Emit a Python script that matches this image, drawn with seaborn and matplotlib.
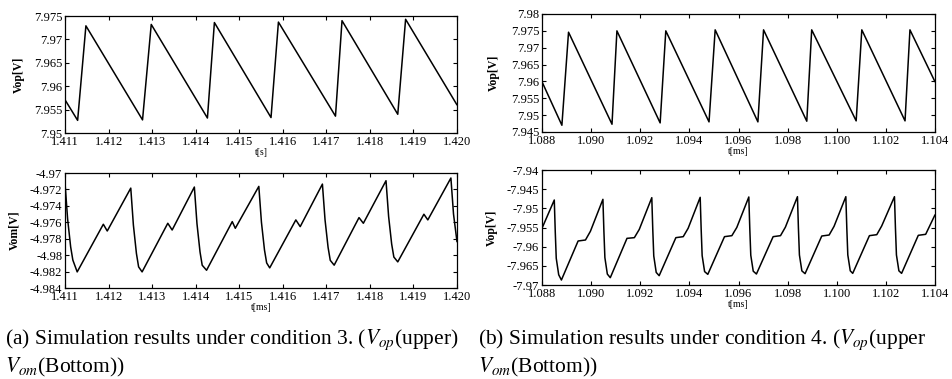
import matplotlib
matplotlib.use("Agg")
import matplotlib.pyplot as plt
import seaborn as sns

# ---------------- data ----------------
# (a) upper: Vop [V] vs t [s]
t_a_op = [1.41100, 1.41129, 1.41148, 1.41278, 1.41298, 1.41427, 1.41443, 1.41573,
          1.41590, 1.41721, 1.41736, 1.41864, 1.41882, 1.42000]
v_a_op = [7.9571, 7.9527, 7.9729, 7.9528, 7.9732, 7.9532, 7.9736, 7.9533,
          7.9737, 7.9536, 7.9740, 7.9540, 7.9743, 7.9560]

# (a) bottom: Vom [V] vs t [ms]
t_a_om = [1.41100, 1.41106, 1.41113, 1.41118, 1.41128,
          1.41188, 1.41197, 1.41251, 1.41257, 1.41264, 1.41269, 1.41277,
          1.41336, 1.41346, 1.41397, 1.41403, 1.41410, 1.41415, 1.41425,
          1.41484, 1.41491, 1.41545, 1.41551, 1.41558, 1.41563, 1.41570,
          1.41630, 1.41640, 1.41691, 1.41697, 1.41704, 1.41709, 1.41718,
          1.41775, 1.41785, 1.41837, 1.41843, 1.41850, 1.41855, 1.41864,
          1.41924, 1.41933, 1.41986, 1.41992, 1.42000]
v_a_om = [-4.97120, -4.97560, -4.97900, -4.98060, -4.98204,
          -4.97624, -4.97706, -4.97184, -4.97633, -4.97980, -4.98143, -4.98204,
          -4.97612, -4.97694, -4.97171, -4.97617, -4.97961, -4.98123, -4.98184,
          -4.97592, -4.97673, -4.97163, -4.97599, -4.97937, -4.98095, -4.98155,
          -4.97571, -4.97653, -4.97135, -4.97569, -4.97905, -4.98063, -4.98122,
          -4.97543, -4.97612, -4.97094, -4.97529, -4.97865, -4.98023, -4.98082,
          -4.97502, -4.97571, -4.97061, -4.97500, -4.97837]

# (b) upper: Vop [V] vs t [ms]
t_b_op = [1.08800, 1.08881, 1.08908, 1.09085, 1.09105, 1.09281, 1.09304, 1.09480,
          1.09505, 1.09679, 1.09702, 1.09878, 1.09898, 1.10079, 1.10102, 1.10278,
          1.10298, 1.10400]
v_b_op = [7.9599, 7.9470, 7.9746, 7.9473, 7.9750, 7.9477, 7.9750, 7.9480,
          7.9753, 7.9480, 7.9753, 7.9482, 7.9753, 7.9483, 7.9753, 7.9483,
          7.9753, 7.9599]

# (b) bottom: Vom [V] vs t [ms]
t_b_om = [1.08800,
          1.08850, 1.08854, 1.08858, 1.08868, 1.08879, 1.08947, 1.08977, 1.08997,
          1.09048, 1.09052, 1.09056, 1.09066, 1.09078, 1.09146, 1.09176, 1.09196,
          1.09247, 1.09251, 1.09255, 1.09265, 1.09277, 1.09345, 1.09375, 1.09395,
          1.09444, 1.09448, 1.09452, 1.09462, 1.09475, 1.09543, 1.09573, 1.09593,
          1.09642, 1.09646, 1.09650, 1.09660, 1.09673, 1.09741, 1.09771, 1.09791,
          1.09840, 1.09844, 1.09848, 1.09858, 1.09871, 1.09939, 1.09969, 1.09989,
          1.10037, 1.10041, 1.10045, 1.10055, 1.10065, 1.10133, 1.10163, 1.10183,
          1.10235, 1.10239, 1.10243, 1.10253, 1.10264, 1.10332, 1.10362, 1.10400]
v_b_om = [-7.95520,
          -7.94783, -7.95613, -7.96303, -7.96733, -7.96870, -7.95852, -7.95826, -7.95600,
          -7.94765, -7.95595, -7.96285, -7.96715, -7.96809, -7.95783, -7.95765, -7.95550,
          -7.94722, -7.95552, -7.96242, -7.96672, -7.96757, -7.95765, -7.95739, -7.95520,
          -7.94713, -7.95543, -7.96233, -7.96650, -7.96722, -7.95739, -7.95713, -7.95500,
          -7.94704, -7.95534, -7.96224, -7.96640, -7.96713, -7.95739, -7.95713, -7.95490,
          -7.94696, -7.95526, -7.96216, -7.96632, -7.96704, -7.95722, -7.95696, -7.95470,
          -7.94696, -7.95526, -7.96216, -7.96630, -7.96696, -7.95713, -7.95687, -7.95460,
          -7.94696, -7.95526, -7.96216, -7.96630, -7.96696, -7.95704, -7.95678, -7.95170]

# tick values and labels
xt_a = [1.411, 1.412, 1.413, 1.414, 1.415, 1.416, 1.417, 1.418, 1.419, 1.420]
xl_a = ["1.411", "1.412", "1.413", "1.414", "1.415", "1.416", "1.417", "1.418", "1.419", "1.420"]
yt_a_op = [7.95, 7.955, 7.96, 7.965, 7.97, 7.975]
yl_a_op = ["7.95", "7.955", "7.96", "7.965", "7.97", "7.975"]
yt_a_om = [-4.984, -4.982, -4.98, -4.978, -4.976, -4.974, -4.972, -4.97]
yl_a_om = ["-4.984", "-4.982", "-4.98", "-4.978", "-4.976", "-4.974", "-4.972", "-4.97"]
xt_b = [1.088, 1.090, 1.092, 1.094, 1.096, 1.098, 1.100, 1.102, 1.104]
xl_b = ["1.088", "1.090", "1.092", "1.094", "1.096", "1.098", "1.100", "1.102", "1.104"]
yt_b_op = [7.945, 7.95, 7.955, 7.96, 7.965, 7.97, 7.975, 7.98]
yl_b_op = ["7.945", "7.95", "7.955", "7.96", "7.965", "7.97", "7.975", "7.98"]
yt_b_om = [-7.97, -7.965, -7.96, -7.955, -7.95, -7.945, -7.94]
yl_b_om = ["-7.97", "-7.965", "-7.96", "-7.955", "-7.95", "-7.945", "-7.94"]

ylab_a_op, ylab_a_om, ylab_b_op, ylab_b_om = "Vop[V]", "Vom[V]", "Vop[V]", "Vop[V]"
xlab_a_op, xlab_a_om, xlab_b_op, xlab_b_om = "t[s]", "t[ms]", "t[ms]", "t[ms]"

cap_a1 = "(a) Simulation results under condition 3. ($V_{op}$(upper)"
cap_a2 = "$V_{om}$(Bottom))"
cap_b1 = "(b) Simulation results under condition 4. ($V_{op}$(upper"
cap_b2 = "$V_{om}$(Bottom))"

# ---------------- style ----------------
sns.set_theme(style="ticks")
plt.rcParams['font.family'] = ['Liberation Serif', 'DejaVu Serif']
plt.rcParams['mathtext.fontset'] = 'stix'
plt.rcParams['axes.linewidth'] = 0.9
plt.rcParams['axes.edgecolor'] = 'black'
plt.rcParams['text.color'] = 'black'
plt.rcParams['axes.labelcolor'] = 'black'
plt.rcParams['xtick.color'] = 'black'
plt.rcParams['ytick.color'] = 'black'

W, H = 952, 379
fig = plt.figure(figsize=(W / 100, H / 100), dpi=100)
fig.patch.set_facecolor('white')


def add_ax(l, t, r, b):
    return fig.add_axes([l / W, 1 - b / H, (r - l) / W, (b - t) / H])


def panel(box, t, v, xt, xl, yt, yl, ylab, xlab, lab_off):
    ax = add_ax(*box)
    sns.lineplot(x=t, y=v, ax=ax, sort=False, estimator=None,
                 color='black', linewidth=1.1)
    ax.set_xlim(xt[0], xt[-1])
    ax.set_ylim(yt[0], yt[-1])
    ax.set_xticks(xt)
    ax.set_xticklabels(xl)
    ax.set_yticks(yt)
    ax.set_yticklabels(yl)
    ax.tick_params(direction='in', length=3, width=0.8, top=True, right=True,
                   labelsize=9, colors='black')
    ax.tick_params(axis='x', pad=2.5)
    ax.tick_params(axis='y', pad=2)
    for s in ax.spines.values():
        s.set_visible(True)
        s.set_color('black')
    ax.set_facecolor('white')
    ax.set_ylabel(ylab, fontsize=8.5, fontweight='bold')
    axw = box[2] - box[0]
    ax.yaxis.set_label_coords(-lab_off / axw, 0.5)
    ax.set_xlabel(xlab, fontsize=7, labelpad=0)
    return ax


panel((65, 16, 457, 133), t_a_op, v_a_op, xt_a, xl_a, yt_a_op, yl_a_op, ylab_a_op, xlab_a_op, 40)
panel((65, 173, 457, 288), t_a_om, v_a_om, xt_a, xl_a, yt_a_om, yl_a_om, ylab_a_om, xlab_a_om, 45)
panel((542, 14, 935, 132), t_b_op, v_b_op, xt_b, xl_b, yt_b_op, yl_b_op, ylab_b_op, xlab_b_op, 42)
panel((542, 170, 935, 285), t_b_om, v_b_om, xt_b, xl_b, yt_b_om, yl_b_om, ylab_b_om, xlab_b_om, 44)

cap_fs = 15.5
fig.text(5 / W, 1 - 340 / H, cap_a1, fontsize=cap_fs, va='center', ha='left')
fig.text(5 / W, 1 - 367 / H, cap_a2, fontsize=cap_fs, va='center', ha='left')
fig.text(478 / W, 1 - 340 / H, cap_b1, fontsize=cap_fs, va='center', ha='left')
fig.text(478 / W, 1 - 367 / H, cap_b2, fontsize=cap_fs, va='center', ha='left')

fig.savefig("out.png", dpi=100, facecolor='white')
